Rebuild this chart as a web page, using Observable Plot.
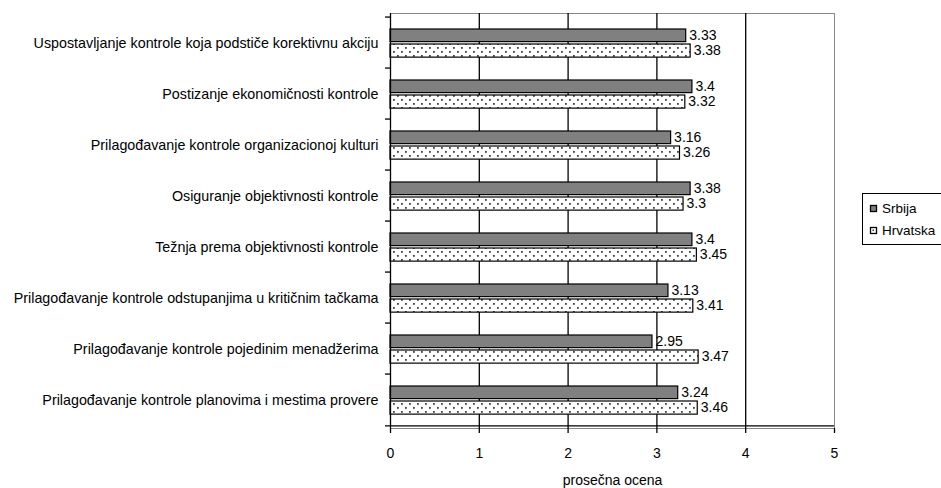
<!DOCTYPE html>
<html>
<head>
<meta charset="utf-8">
<script src="https://cdn.jsdelivr.net/npm/d3@7"></script>
<script src="https://cdn.jsdelivr.net/npm/@observablehq/plot@0.6"></script>
<style>
  body { margin: 0; background: #fff; }
  #wrap { position: relative; width: 941px; height: 488px; overflow: hidden; }
</style>
</head>
<body>
<div id="wrap"></div>
<script>
const categories = [
  "Uspostavljanje kontrole koja podstiče korektivnu akciju",
  "Postizanje ekonomičnosti kontrole",
  "Prilagođavanje kontrole organizacionoj kulturi",
  "Osiguranje objektivnosti kontrole",
  "Težnja prema objektivnosti kontrole",
  "Prilagođavanje kontrole odstupanjima u kritičnim tačkama",
  "Prilagođavanje kontrole pojedinim menadžerima",
  "Prilagođavanje kontrole planovima i mestima provere"
];
const srbija   = [3.33, 3.4, 3.16, 3.38, 3.4, 3.13, 2.95, 3.24];
const hrvatska = [3.38, 3.32, 3.26, 3.3, 3.45, 3.41, 3.47, 3.46];
const seriesNames = ["Srbija", "Hrvatska"];
const xTicks = [0, 1, 2, 3, 4, 5];
const xLabel = "prosečna ocena";

const srbData = categories.map((c, i) => ({category: c, series: seriesNames[0], value: srbija[i]}));
const hrvData = categories.map((c, i) => ({category: c, series: seriesNames[1], value: hrvatska[i]}));

const FONT = "Arial, 'Liberation Sans', sans-serif";
const W = 941, H = 488, mT = 13, mB = 60, mL = 390, mR = 107;
const band = (H - mT - mB) / categories.length;

const chart = Plot.plot({
  width: W, height: H,
  marginLeft: mL, marginRight: mR, marginTop: mT, marginBottom: mB,
  style: {fontFamily: FONT, fontSize: "14.3px", color: "#000", background: "#fff", overflow: "visible"},
  x: {domain: [0, 5], ticks: xTicks, label: null},
  y: {domain: categories, padding: 0, axis: null, label: null},
  marks: [
    Plot.frame({stroke: "#888"}),
    Plot.ruleX(xTicks.filter(t => t > 0 && t < 5), {stroke: "#000", strokeWidth: 1.3}),
    Plot.barX(srbData, {x: "value", y: "category", fill: "#808080", stroke: "#000", strokeWidth: 1.2,
      insetTop: 12, insetBottom: band - 25.5}),
    Plot.barX(hrvData, {x: "value", y: "category", fill: "url(#dots)", stroke: "#000", strokeWidth: 1.2,
      insetTop: 27, insetBottom: band - 41}),
    Plot.text(srbData, {x: "value", y: "category", text: d => String(d.value), textAnchor: "start", dx: 3, dy: -7, fill: "#000", fontSize: 14}),
    Plot.text(hrvData, {x: "value", y: "category", text: d => String(d.value), textAnchor: "start", dx: 3, dy: 8, fill: "#000", fontSize: 14}),
    Plot.ruleX([0], {stroke: "#000", strokeWidth: 1.3}),
    Plot.ruleY(categories, {y: d => d, x1: 0, x2: 0, insetLeft: -5, dy: -band / 2, stroke: "#000", strokeWidth: 1.3}),
    Plot.ruleY([categories[categories.length - 1]], {y: d => d, x1: 0, x2: 5, insetLeft: -5, dy: band / 2, stroke: "#000", strokeWidth: 1.3}),
    Plot.axisX({tickSize: 5, tickPadding: 15, label: null, strokeWidth: 1.3, fontSize: 14}),
    Plot.axisY({tickSize: 0, tickPadding: 12, label: null}),
    Plot.text([xLabel], {frameAnchor: "bottom", dy: 56, text: d => d, fill: "#000", fontSize: 14})
  ]
});

// dot pattern for Hrvatska
const svg = d3.select(chart);
const defs = svg.insert("defs", ":first-child");
const pat = defs.append("pattern").attr("id", "dots").attr("patternUnits", "userSpaceOnUse")
  .attr("width", 8).attr("height", 8).attr("y", 2);
pat.append("rect").attr("width", 8).attr("height", 8).attr("fill", "#fff");
pat.append("rect").attr("x", 1).attr("y", 1).attr("width", 1.8).attr("height", 1.8).attr("fill", "#444");
pat.append("rect").attr("x", 5).attr("y", 5).attr("width", 1.8).attr("height", 1.8).attr("fill", "#444");

// legend (box runs off the right edge, as in the reference)
const lg = svg.append("g").attr("font-family", FONT).attr("font-size", 13.5).attr("text-anchor", "start");
lg.append("rect").attr("x", 862.5).attr("y", 193.5).attr("width", 84).attr("height", 51)
  .attr("fill", "#fff").attr("stroke", "#000");
seriesNames.forEach((name, i) => {
  const y = 205 + i * 22;
  lg.append("rect").attr("x", 870.5).attr("y", y + 0.5).attr("width", 6).attr("height", 6)
    .attr("fill", i === 0 ? "#808080" : "#fff").attr("stroke", "#000").attr("stroke-width", 1.3);
  if (i === 1) lg.append("rect").attr("x", 872.5).attr("y", y + 2.5).attr("width", 1.6).attr("height", 1.6).attr("fill", "#444");
  lg.append("text").attr("x", 882).attr("y", y + 4).attr("dy", "0.32em").attr("text-anchor", "start").attr("fill", "#000").text(name);
});

document.getElementById("wrap").appendChild(chart);
</script>
</body>
</html>
